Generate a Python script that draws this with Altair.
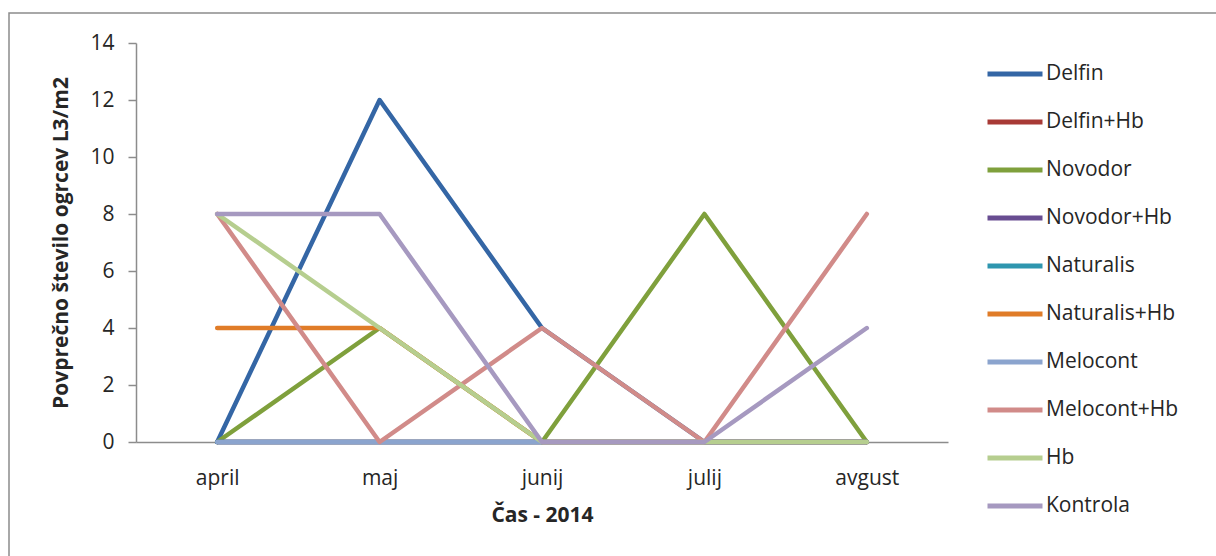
import altair as alt
import pandas as pd

months = ["april", "maj", "junij", "julij", "avgust"]

series_names = ["Delfin", "Delfin+Hb", "Novodor", "Novodor+Hb", "Naturalis",
                "Naturalis+Hb", "Melocont", "Melocont+Hb", "Hb", "Kontrola"]

delfin = [0, 12, 4, 0, 0]
delfin_hb = [0, 0, 0, 0, 0]
novodor = [0, 4, 0, 8, 0]
novodor_hb = [0, 0, 0, 0, 0]
naturalis = [0, 0, 0, 0, 0]
naturalis_hb = [4, 4, 0, 0, 0]
melocont = [0, 0, 0, 0, 0]
melocont_hb = [8, 0, 4, 0, 8]
hb = [8, 4, 0, 0, 0]
kontrola = [8, 8, 0, 0, 4]

colors = ["#3466A5", "#A83A36", "#7FA03C", "#684D91", "#2E96AF",
          "#E07C28", "#8BA4CE", "#D18B89", "#B6CE8F", "#A699C0"]

values = [delfin, delfin_hb, novodor, novodor_hb, naturalis,
          naturalis_hb, melocont, melocont_hb, hb, kontrola]

rows = []
for order, (name, vals) in enumerate(zip(series_names, values)):
    for m, v in zip(months, vals):
        rows.append({"serija": name, "mesec": m, "vrednost": v, "red": order})
df = pd.DataFrame(rows)

FONT = "Open Sans"

# outer frame of the chart
frame = alt.Chart(pd.DataFrame({"k": [0]})).mark_rect(
    fill=None, stroke="#8C8C8C", strokeWidth=1.5
).encode(
    x=alt.value(-127), x2=alt.value(1090), y=alt.value(-30), y2=alt.value(520)
)

lines = alt.Chart(df).mark_line(strokeWidth=4.5, strokeCap="round", strokeJoin="round").encode(
    x=alt.X("mesec:N", sort=months, scale=alt.Scale(type="point", padding=0.5),
            axis=alt.Axis(title="Čas - 2014", labelAngle=0, ticks=False,
                          domainColor="#8C8C8C", domainWidth=1.5,
                          labelPadding=25, titlePadding=16)),
    y=alt.Y("vrednost:Q", scale=alt.Scale(domain=[0, 14], nice=False),
            axis=alt.Axis(title="Povprečno število ogrcev L3/m2", values=list(range(0, 15, 2)),
                          grid=False, tickSize=8, tickColor="#8C8C8C", tickWidth=1.5,
                          domainColor="#8C8C8C", domainWidth=1.5,
                          labelPadding=14, titlePadding=18)),
    color=alt.Color("serija:N", sort=series_names,
                    scale=alt.Scale(domain=series_names, range=colors),
                    legend=alt.Legend(title=None, orient="none", legendX=849, legendY=1,
                                      symbolType="stroke", symbolSize=3025,
                                      symbolStrokeWidth=5, labelFontSize=21,
                                      labelFont=FONT, labelColor="#262626",
                                      labelOffset=1, rowPadding=8)),
    order=alt.Order("red:Q"),
    detail="serija:N",
)

chart = alt.layer(frame, lines).properties(
    width=812, height=399,
    background="white",
    autosize=alt.AutoSizeParams(type="none"),
    padding={"left": 136, "top": 43, "right": 268, "bottom": 114},
).configure_view(stroke=None).configure_axis(
    labelFont=FONT, titleFont=FONT, labelFontSize=21, titleFontSize=21,
    labelColor="#262626", titleColor="#262626", titleFontWeight="bold"
)

chart.save("out.html", embed_options={"renderer": "svg", "actions": False})
